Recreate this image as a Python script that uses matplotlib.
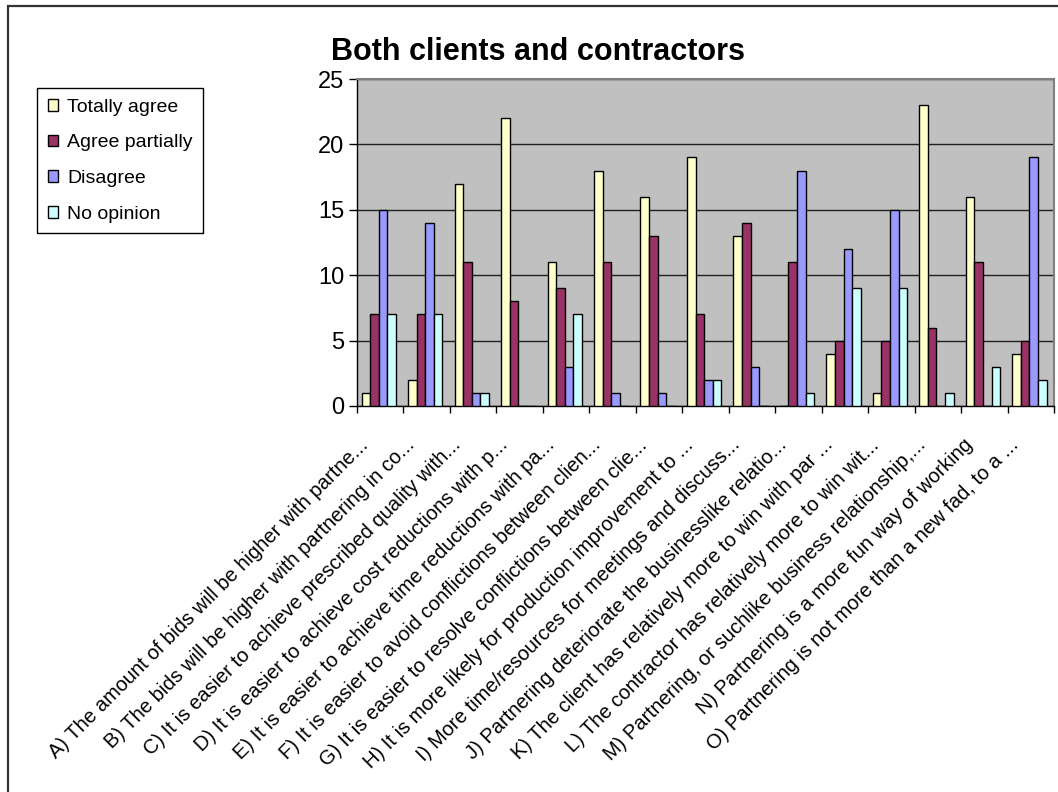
import matplotlib
matplotlib.use("Agg")
import matplotlib.pyplot as plt
import matplotlib.transforms as mtransforms
from matplotlib.patches import Patch, Rectangle
import numpy as np

plt.rcParams['font.family'] = ['Liberation Sans', 'DejaVu Sans']

categories = [
    "A) The amount of bids will be higher with partne...",
    "B) The bids will be higher with partnering in co...",
    "C) It is easier to achieve prescribed quality with...",
    "D) It is easier to achieve cost reductions with p...",
    "E) It is easier to achieve time reductions with pa...",
    "F) It is easier to avoid conflictions between clien...",
    "G) It is easier to resolve conflictions between clie...",
    "H) It is more likely for production improvement to ...",
    "I) More time/resources for meetings and discuss...",
    "J) Partnering deteriorate the businesslike relatio...",
    "K) The client has relatively more to win with par ...",
    "L) The contractor has relatively more to win wit...",
    "M) Partnering, or suchlike business relationship,...",
    "N) Partnering is a more fun way of working",
    "O) Partnering is not more than a new fad, to a ...",
]

totally_agree   = [1, 2, 17, 22, 11, 18, 16, 19, 13, 0, 4, 1, 23, 16, 4]
agree_partially = [7, 7, 11, 8, 9, 11, 13, 7, 14, 11, 5, 5, 6, 11, 5]
disagree        = [15, 14, 1, 0, 3, 1, 1, 2, 3, 18, 12, 15, 0, 0, 19]
no_opinion      = [7, 7, 1, 0, 7, 0, 0, 2, 0, 1, 9, 9, 1, 3, 2]

series_names = ["Totally agree", "Agree partially", "Disagree", "No opinion"]
series_values = [totally_agree, agree_partially, disagree, no_opinion]
series_colors = ["#FFFFCC", "#993366", "#9999FF", "#CCFFFF"]

W, H = 1058, 792
fig = plt.figure(figsize=(W / 100, H / 100), dpi=100)
fig.patch.set_facecolor("white")

# outer chart frame (runs off the right and bottom edges)
fig.add_artist(Rectangle((8 / W, -0.05), 1.2, 1 - 5.5 / H + 0.05,
                         transform=fig.transFigure, fill=False,
                         edgecolor="#333333", linewidth=1.6))

ax = fig.add_axes([357 / W, 1 - 406 / H, (1054 - 357) / W, (406 - 79) / H])
ax.set_facecolor("#C0C0C0")

n = len(categories)
x = np.arange(n)
bar_w = 0.185
for i, (name, vals, col) in enumerate(zip(series_names, series_values, series_colors)):
    ax.bar(x + (i - 1.5) * bar_w - 0.03, vals, width=bar_w, color=col,
           edgecolor="black", linewidth=1.0, label=name, zorder=3)

ax.set_xlim(-0.5, n - 0.5)
ax.set_ylim(0, 25)
ax.set_yticks([0, 5, 10, 15, 20, 25])
ax.yaxis.grid(True, color="#202020", linewidth=1.0, zorder=1)
ax.set_axisbelow(True)
ax.tick_params(axis="y", labelsize=17, length=6, width=1, direction="out", pad=3)

ax.set_xticks(np.arange(n + 1) - 0.5)
ax.set_xticklabels([])
ax.tick_params(axis="x", length=5, width=1, direction="out")

for side in ["top", "right"]:
    ax.spines[side].set_color("#808080")
    ax.spines[side].set_linewidth(1.5)
ax.spines["left"].set_color("black")
ax.spines["bottom"].set_color("black")
ax.spines["left"].set_linewidth(1.0)
ax.spines["bottom"].set_linewidth(1.0)

# rotated category labels hanging from the axis
offset = mtransforms.ScaledTranslation(-15 / 100, -36 / 100, fig.dpi_scale_trans)
trans = mtransforms.blended_transform_factory(ax.transData, ax.transAxes) + offset
for xi, lab in zip(x, categories):
    ax.text(xi, 0, lab, transform=trans, rotation=45, rotation_mode="anchor",
            ha="right", va="center", fontsize=14.5, clip_on=False)

fig.text(538 / W, 1 - 52 / H, "Both clients and contractors", ha="center",
         va="center", fontsize=22, fontweight="bold")

handles = [Patch(facecolor=c, edgecolor="black", linewidth=1.0) for c in series_colors]
leg = fig.legend(handles, series_names, loc="upper left",
                 bbox_to_anchor=(37 / W, 1 - 88 / H), bbox_transform=fig.transFigure,
                 frameon=True, fancybox=False, framealpha=1, edgecolor="black",
                 fontsize=14, handlelength=0.55, handleheight=0.55, handletextpad=0.45,
                 labelspacing=0.96, borderpad=0.55, borderaxespad=0)
leg.get_frame().set_linewidth(1.0)

fig.savefig("out.png", dpi=100)
